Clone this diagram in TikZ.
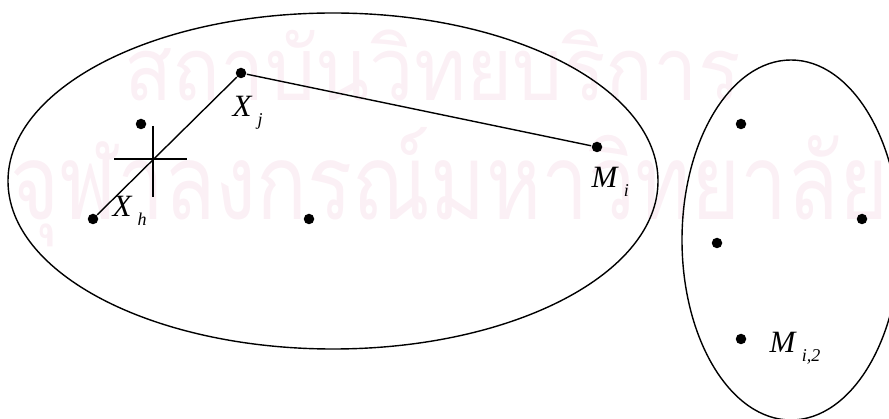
\documentclass[tikz,border=0pt]{standalone}
\usepackage{fontspec}
\setmainfont{Liberation Serif}
\newfontfamily\thaifont[Script=Thai]{Loma}
\usepackage{tikz}
\usetikzlibrary{positioning}
\definecolor{wmpink}{RGB}{251,240,245}
\newcommand{\elem}[2]{\textit{#1}\hspace{5pt}\raisebox{-9pt}{\fontsize{18}{18}\selectfont\textit{#2}}}

\begin{document}
\begin{tikzpicture}[x=1pt, y=-1pt, line width=1.4pt,
  dot/.style={circle, fill=black, inner sep=0pt, minimum size=10.5pt},
  lbl/.style={anchor=base west, inner sep=0pt, font=\fontsize{31}{31}\selectfont},
  wm/.style={text=wmpink, inner sep=0pt, anchor=base west, font=\thaifont}]
\useasboundingbox (0,0) rectangle (889,419);
% watermark
\node[wm, xscale=0.9] (wm1) at (124,101) {\fontsize{88}{88}\selectfont สถาบันวิทยบริการ};
\node[wm, xscale=0.8] (wm2) at (10,220) {\fontsize{105}{105}\selectfont จุฬาลงกรณ์มหาวิทยาลัย};
% clusters
\draw (333,181) ellipse [x radius=325, y radius=168];
\draw (791,240) ellipse [x radius=109, y radius=180];
% points
\node[dot] (xj) at (241,73) {};
\node[dot] (mi) at (597,147) {};
\node[dot] (xh) at (93,219) {};
\node[dot] (p1) at (141,124) {};
\node[dot] (p2) at (309,219) {};
\node[dot] (q1) at (741,124) {};
\node[dot] (q2) at (862,219) {};
\node[dot] (q3) at (717,243) {};
\node[dot] (mi2) at (741,339) {};
\draw (xh) -- (xj) -- (mi);
% centroid mark
\draw (114,159) -- (187,159);
\draw (153,126) -- (153,197);
% labels
\node[lbl] (lxj) at (232,117) {\elem{X}{j}};
\node[lbl] (lxh) at (112,217) {\elem{X}{h}};
\node[lbl] (lmi) at (591,188) {\elem{M}{i}};
\node[lbl] (lmi2) at (769,353) {\elem{M}{i,2}};
\end{tikzpicture}
\end{document}
